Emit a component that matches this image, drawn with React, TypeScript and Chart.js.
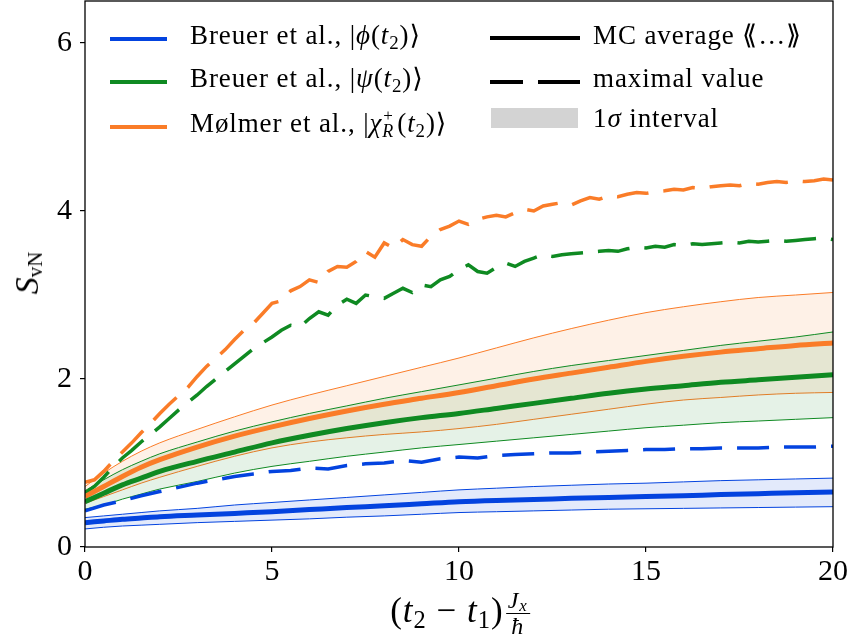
import React, { useEffect, useRef } from 'react';
import { Chart, registerables } from 'chart.js';

Chart.register(...registerables);

// Time grids (t2 - t1) Jx / hbar
const T_SMOOTH = [0, 0.5, 1, 1.5, 2, 3, 4, 5, 6, 7, 8, 9, 10, 11, 12, 13, 14, 15, 16, 17, 18, 19, 20];
const T_HALF = [0, 0.5, 1, 1.5, 2, 2.5, 3, 3.5, 4, 4.5, 5, 5.5, 6, 6.5, 7, 7.5, 8, 8.5, 9, 9.5, 10, 10.5, 11, 11.5, 12, 12.5, 13, 13.5, 14, 14.5, 15, 15.5, 16, 16.5, 17, 17.5, 18, 18.5, 19, 19.5, 20];
const T_FINE = [0, 0.25, 0.5, 0.75, 1, 1.25, 1.5, 1.75, 2, 2.25, 2.5, 2.75, 3, 3.25, 3.5, 3.75, 4, 4.25, 4.5, 4.75, 5, 5.25, 5.5, 5.75, 6, 6.25, 6.5, 6.75, 7, 7.25, 7.5, 7.75, 8, 8.25, 8.5, 8.75, 9, 9.25, 9.5, 9.75, 10, 10.25, 10.5, 10.75, 11, 11.25, 11.5, 11.75, 12, 12.25, 12.5, 12.75, 13, 13.25, 13.5, 13.75, 14, 14.25, 14.5, 14.75, 15, 15.25, 15.5, 15.75, 16, 16.25, 16.5, 16.75, 17, 17.25, 17.5, 17.75, 18, 18.25, 18.5, 18.75, 19, 19.25, 19.5, 19.75, 20];

// Breuer et al., |phi(t2)>
const phiMean = [0.29, 0.31, 0.33, 0.345, 0.36, 0.38, 0.40, 0.42, 0.445, 0.47, 0.49, 0.515, 0.54, 0.555, 0.565, 0.58, 0.59, 0.60, 0.61, 0.625, 0.635, 0.645, 0.656];
const phiUpper = [0.35, 0.37, 0.39, 0.41, 0.43, 0.46, 0.50, 0.53, 0.56, 0.59, 0.62, 0.65, 0.68, 0.70, 0.72, 0.735, 0.75, 0.76, 0.775, 0.79, 0.80, 0.81, 0.82];
const phiLower = [0.215, 0.235, 0.25, 0.26, 0.27, 0.29, 0.305, 0.32, 0.335, 0.355, 0.37, 0.39, 0.41, 0.42, 0.43, 0.44, 0.45, 0.455, 0.46, 0.465, 0.47, 0.475, 0.48];
const phiMax = [0.43, 0.50, 0.55, 0.61, 0.66, 0.71, 0.76, 0.80, 0.84, 0.87, 0.90, 0.91, 0.94, 0.93, 0.97, 0.99, 1.00, 1.03, 1.01, 1.05, 1.07, 1.06, 1.09, 1.10, 1.11, 1.12, 1.12, 1.13, 1.14, 1.15, 1.16, 1.16, 1.17, 1.17, 1.18, 1.18, 1.18, 1.19, 1.19, 1.19, 1.20];

// Breuer et al., |psi(t2)>
const psiMean = [0.54, 0.64, 0.74, 0.82, 0.90, 1.02, 1.13, 1.24, 1.33, 1.41, 1.48, 1.54, 1.59, 1.65, 1.71, 1.77, 1.83, 1.88, 1.92, 1.96, 1.99, 2.02, 2.05];
const psiUpper = [0.67, 0.80, 0.92, 1.02, 1.11, 1.25, 1.38, 1.49, 1.59, 1.68, 1.77, 1.85, 1.93, 2.01, 2.09, 2.16, 2.22, 2.28, 2.34, 2.40, 2.45, 2.50, 2.56];
const psiLower = [0.45, 0.50, 0.57, 0.63, 0.69, 0.78, 0.88, 0.96, 1.02, 1.08, 1.13, 1.18, 1.22, 1.26, 1.30, 1.34, 1.38, 1.42, 1.45, 1.48, 1.50, 1.52, 1.54];
const psiMax = [
  0.64, 0.72, 0.83, 0.95, 1.06, 1.15, 1.25, 1.34, 1.43, 1.53, 1.63, 1.72, 1.81, 1.91, 2.00, 2.09,
  2.18, 2.27, 2.36, 2.43, 2.50, 2.58, 2.64, 2.62, 2.72, 2.80, 2.76, 2.88, 2.95, 2.90, 3.00, 2.98,
  2.96, 3.02, 3.08, 3.03, 3.12, 3.10, 3.18, 3.22, 3.30, 3.36, 3.28, 3.26, 3.33, 3.38, 3.34, 3.40,
  3.44, 3.48, 3.46, 3.48, 3.49, 3.50, 3.51, 3.52, 3.53, 3.52, 3.55, 3.57, 3.56, 3.58, 3.57, 3.60,
  3.59, 3.61, 3.60, 3.61, 3.62, 3.63, 3.62, 3.64, 3.63, 3.64, 3.65, 3.64, 3.65, 3.66, 3.67, 3.68, 3.66,
];

// Mølmer et al., |chi_R^+(t2)>
const chiMean = [0.60, 0.72, 0.84, 0.95, 1.04, 1.19, 1.32, 1.43, 1.53, 1.62, 1.70, 1.77, 1.84, 1.92, 2.00, 2.07, 2.14, 2.21, 2.27, 2.32, 2.36, 2.40, 2.43];
const chiUpper = [0.72, 0.88, 1.02, 1.14, 1.24, 1.40, 1.55, 1.69, 1.81, 1.92, 2.03, 2.14, 2.25, 2.37, 2.49, 2.60, 2.70, 2.79, 2.86, 2.92, 2.97, 3.00, 3.03];
const chiLower = [0.52, 0.60, 0.68, 0.76, 0.83, 0.96, 1.08, 1.18, 1.25, 1.30, 1.34, 1.37, 1.41, 1.46, 1.52, 1.58, 1.64, 1.70, 1.75, 1.78, 1.81, 1.83, 1.84];
const chiMax = [
  0.77, 0.80, 0.90, 1.02, 1.13, 1.24, 1.36, 1.47, 1.59, 1.70, 1.80, 1.90, 2.03, 2.15, 2.25, 2.35,
  2.47, 2.58, 2.66, 2.78, 2.90, 2.93, 3.05, 3.10, 3.18, 3.15, 3.28, 3.34, 3.33, 3.40, 3.52, 3.45,
  3.62, 3.56, 3.66, 3.60, 3.58, 3.70, 3.78, 3.82, 3.88, 3.84, 3.90, 3.93, 3.95, 3.93, 3.98, 4.02,
  4.00, 4.06, 4.08, 4.10, 4.07, 4.12, 4.16, 4.14, 4.18, 4.17, 4.20, 4.22, 4.21, 4.23, 4.24, 4.26,
  4.25, 4.28, 4.27, 4.29, 4.30, 4.31, 4.30, 4.33, 4.32, 4.34, 4.35, 4.34, 4.36, 4.35, 4.36, 4.38, 4.37,
];

const X_TICKS = [0, 5, 10, 15, 20];
const Y_TICKS = [0, 2, 4, 6];

const BLUE = '#0343df';
const GREEN = '#0f8a22';
const ORANGE = '#fa7c28';
const SERIF = "'Liberation Serif', 'DejaVu Serif', serif";
const DASH = [32, 15];

const pts = (xs: number[], ys: number[]) => xs.map((x, i) => ({ x, y: ys[i] }));

const fade = (hex: string, a: number) => {
  const n = parseInt(hex.slice(1), 16);
  return `rgba(${(n >> 16) & 255}, ${(n >> 8) & 255}, ${n & 255}, ${a})`;
};

function band(color: string, upper: number[], lower: number[]) {
  return [
    {
      data: pts(T_SMOOTH, upper),
      borderColor: color,
      borderWidth: 1,
      backgroundColor: fade(color, 0.11),
      fill: '+1',
      cubicInterpolationMode: 'monotone',
      order: 10,
    },
    {
      data: pts(T_SMOOTH, lower),
      borderColor: color,
      borderWidth: 1,
      fill: false,
      cubicInterpolationMode: 'monotone',
      order: 10,
    },
  ];
}

const meanLine = (color: string, ys: number[]) => ({
  data: pts(T_SMOOTH, ys),
  borderColor: color,
  borderWidth: 5,
  fill: false,
  cubicInterpolationMode: 'monotone',
  order: 1,
});

const maxLine = (color: string, xs: number[], ys: number[]) => ({
  data: pts(xs, ys),
  borderColor: color,
  borderWidth: 3.5,
  borderDash: DASH,
  borderCapStyle: 'butt',
  fill: false,
  tension: 0,
  order: 5,
});

const framePlugin = {
  id: 'frame',
  afterDatasetsDraw(chart: any) {
    const { ctx, chartArea } = chart;
    const { left, top, right, bottom } = chartArea;
    ctx.save();
    ctx.strokeStyle = '#000';
    ctx.lineWidth = 1.3;
    ctx.strokeRect(left, top, right - left, bottom - top);
    ctx.restore();
  },
};

const legendLeft = [
  { color: BLUE, key: 'phi', y: 39 },
  { color: GREEN, key: 'psi', y: 82 },
  { color: ORANGE, key: 'chi', y: 127 },
];

const LEG_FONT = 27;
const SUB: React.CSSProperties = { fontSize: '0.7em', verticalAlign: '-0.25em', lineHeight: 0 };

function Ket({ children }: { children: React.ReactNode }) {
  return (
    <span>
      |{children}(<i>t</i>
      <sub style={SUB}>2</sub>)⟩
    </span>
  );
}

export default function App() {
  const ref = useRef<HTMLCanvasElement | null>(null);

  useEffect(() => {
    if (!ref.current) return;
    const chart = new Chart(ref.current, {
      type: 'line',
      data: {
        datasets: [
          ...band(BLUE, phiUpper, phiLower),
          ...band(GREEN, psiUpper, psiLower),
          ...band(ORANGE, chiUpper, chiLower),
          maxLine(BLUE, T_HALF, phiMax),
          maxLine(GREEN, T_FINE, psiMax),
          maxLine(ORANGE, T_FINE, chiMax),
          meanLine(BLUE, phiMean),
          meanLine(GREEN, psiMean),
          meanLine(ORANGE, chiMean),
        ] as any,
      },
      options: {
        responsive: false,
        devicePixelRatio: 1,
        animation: false,
        layout: { padding: { top: 1, right: 18, left: 0, bottom: 0 } },
        elements: { point: { radius: 0 } },
        plugins: {
          legend: { display: false },
          tooltip: { enabled: false },
        },
        scales: {
          x: {
            type: 'linear',
            min: 0,
            max: 20,
            afterBuildTicks: (s: any) => {
              s.ticks = X_TICKS.map((v) => ({ value: v }));
            },
            afterFit: (s: any) => {
              s.height = 97;
            },
            ticks: {
              color: '#000',
              font: { family: SERIF, size: 30 },
              padding: 2,
              maxRotation: 0,
            },
            grid: {
              display: true,
              drawOnChartArea: false,
              drawTicks: true,
              tickLength: 5,
              color: '#000',
              lineWidth: 1.2,
            },
            border: { display: false },
          },
          y: {
            type: 'linear',
            min: 0,
            max: 6.5,
            afterBuildTicks: (s: any) => {
              s.ticks = Y_TICKS.map((v) => ({ value: v }));
            },
            afterFit: (s: any) => {
              s.width = 85;
              s.paddingTop = 0;
              s.paddingBottom = 0;
            },
            ticks: {
              color: '#000',
              font: { family: SERIF, size: 30 },
              padding: 8,
            },
            grid: {
              display: true,
              drawOnChartArea: false,
              drawTicks: true,
              tickLength: 5,
              color: '#000',
              lineWidth: 1.2,
            },
            border: { display: false },
          },
        },
      },
      plugins: [framePlugin],
    } as any);
    return () => chart.destroy();
  }, []);

  const textBase: React.CSSProperties = {
    position: 'absolute',
    fontFamily: SERIF,
    fontSize: LEG_FONT,
    letterSpacing: 0.9,
    lineHeight: 1,
    color: '#000',
    whiteSpace: 'nowrap',
  };

  return (
    <div style={{ position: 'absolute', left: 0, top: 0, width: 851, height: 644, background: '#fff', overflow: 'hidden' }}>
      <canvas ref={ref} width={851} height={644} style={{ position: 'absolute', left: 0, top: 0, width: 851, height: 644 }} />

      {/* legend, first column: series colours */}
      {legendLeft.map((r) => (
        <div key={r.key} style={{ position: 'absolute', left: 110, top: r.y - 2, width: 57, height: 4, background: r.color }} />
      ))}
      <div style={{ ...textBase, left: 190, top: 22 }}>
        Breuer et al., <Ket><i>ϕ</i></Ket>
      </div>
      <div style={{ ...textBase, left: 190, top: 65 }}>
        Breuer et al., <Ket><i>ψ</i></Ket>
      </div>
      <div style={{ ...textBase, left: 190, top: 105 }}>
        Mølmer et al., |<i>χ</i>
        <span style={{ display: 'inline-block', position: 'relative', width: 15, height: 27, verticalAlign: 'baseline' }}>
          <span style={{ position: 'absolute', left: 1, top: 2, fontSize: 17, lineHeight: 1 }}>+</span>
          <i style={{ position: 'absolute', left: 0, top: 17, fontSize: 18, lineHeight: 1 }}>R</i>
        </span>
        (<i>t</i>
        <sub style={SUB}>2</sub>)⟩
      </div>

      {/* legend, second column: line styles */}
      <div style={{ position: 'absolute', left: 490, top: 36, width: 90, height: 4, background: '#000' }} />
      <div style={{ position: 'absolute', left: 490, top: 80, width: 33, height: 4, background: '#000' }} />
      <div style={{ position: 'absolute', left: 538, top: 80, width: 42, height: 4, background: '#000' }} />
      <div style={{ position: 'absolute', left: 491, top: 108, width: 87, height: 20, background: '#d3d3d3' }} />
      <div style={{ ...textBase, left: 593, top: 22 }}>MC average ⟪…⟫</div>
      <div style={{ ...textBase, left: 593, top: 65 }}>maximal value</div>
      <div style={{ ...textBase, left: 593, top: 105 }}>
        1<i>σ</i> interval
      </div>

      {/* axis titles */}
      <div
        style={{
          position: 'absolute',
          left: 460,
          top: 588,
          transform: 'translateX(-50%)',
          fontFamily: SERIF,
          fontSize: 35,
          letterSpacing: 1,
          lineHeight: 1,
          whiteSpace: 'nowrap',
          color: '#000',
        }}
      >
        (<i>t</i>
        <sub style={SUB}>2</sub> − <i>t</i>
        <sub style={SUB}>1</sub>)
        <span
          style={{
            display: 'inline-flex',
            flexDirection: 'column',
            alignItems: 'center',
            verticalAlign: 'middle',
            fontSize: 24,
            lineHeight: 1.05,
            marginLeft: 2,
          }}
        >
          <span style={{ padding: '0 2px' }}>
            <i>J</i>
            <sub style={{ fontSize: '0.7em', verticalAlign: '-0.2em', lineHeight: 0 }}>
              <i>x</i>
            </sub>
          </span>
          <span style={{ borderTop: '1.3px solid #000', alignSelf: 'stretch', textAlign: 'center' }}>
            <i>ħ</i>
          </span>
        </span>
      </div>
      <div
        style={{
          position: 'absolute',
          left: 27,
          top: 273,
          transform: 'translate(-50%, -50%) rotate(-90deg)',
          fontFamily: SERIF,
          fontSize: 34,
          lineHeight: 1,
          whiteSpace: 'nowrap',
          color: '#000',
        }}
      >
        <i>S</i>
        <sub style={{ fontSize: 21, verticalAlign: '-0.2em', lineHeight: 0 }}>vN</sub>
      </div>
    </div>
  );
}
